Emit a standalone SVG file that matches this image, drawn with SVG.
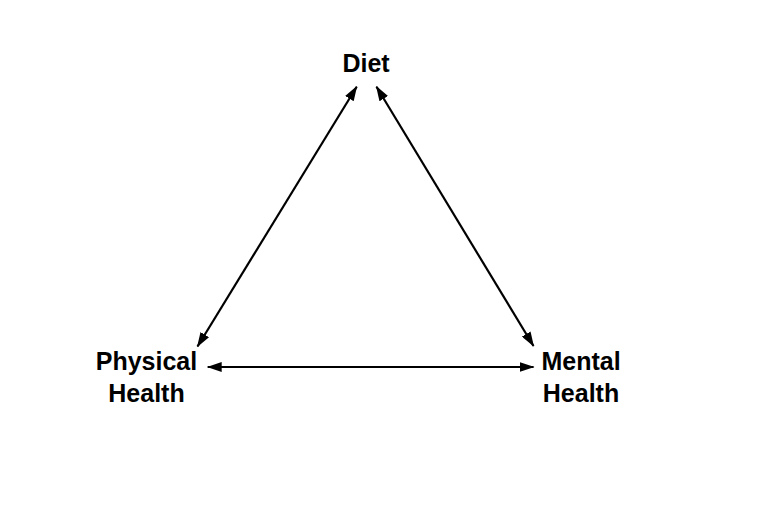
<svg xmlns="http://www.w3.org/2000/svg" width="768" height="512" viewBox="0 0 768 512">
<style>
.lbl{font-family:"Liberation Sans",Arial,sans-serif;font-weight:bold;font-size:25px;fill:#000;text-anchor:middle}
.edge{stroke:#000;stroke-width:2.2;fill:none;marker-start:url(#ah);marker-end:url(#ah)}
</style>
<defs>
<marker id="ah" markerUnits="userSpaceOnUse" markerWidth="15" markerHeight="10" viewBox="0 0 15 10" refX="14" refY="5" orient="auto-start-reverse">
<path d="M0,0 L15,5 L0,10 z" fill="#000"/>
</marker>
</defs>
<rect width="768" height="512" fill="#fff"/>
<g id="connectors">
<line class="edge" x1="356.7" y1="86.7" x2="197.5" y2="346.5"/>
<line class="edge" x1="376.5" y1="86.7" x2="533.5" y2="346"/>
<line class="edge" x1="207.7" y1="367" x2="533.5" y2="367"/>
</g>
<g id="diet"><text class="lbl" x="366" y="71.5">Diet</text></g>
<g id="physical"><text class="lbl" x="146.5" y="370">Physical</text><text class="lbl" x="146.5" y="401.5">Health</text></g>
<g id="mental"><text class="lbl" x="581" y="370">Mental</text><text class="lbl" x="581" y="401.5">Health</text></g>
</svg>
